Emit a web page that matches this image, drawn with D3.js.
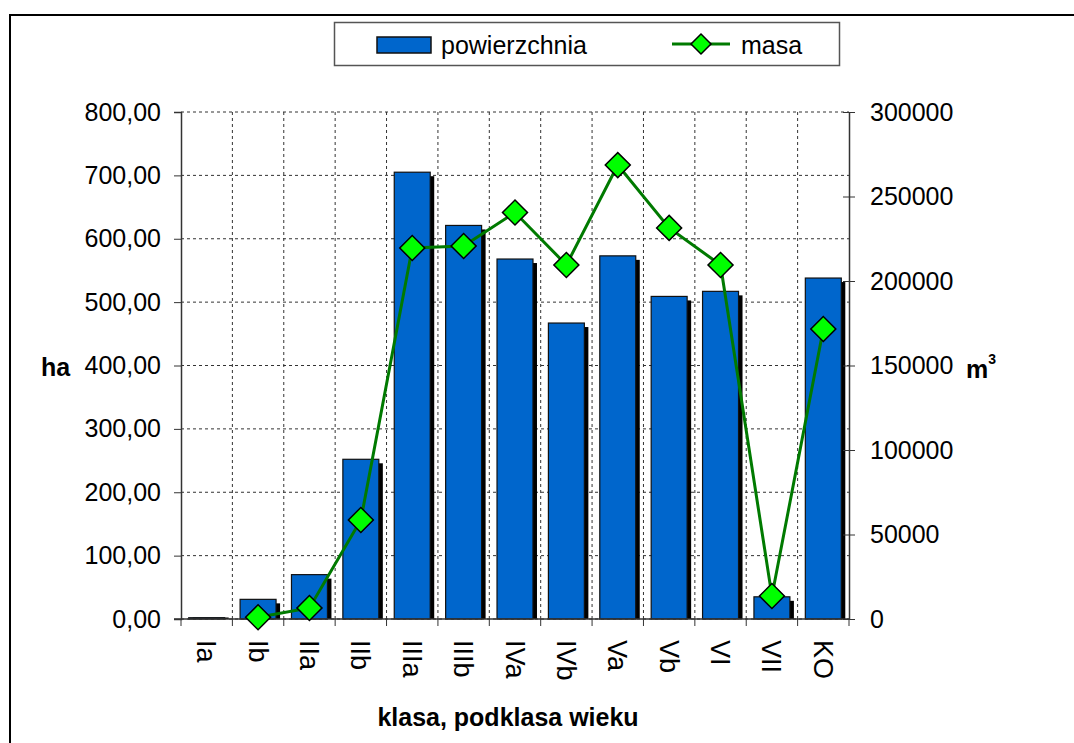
<!DOCTYPE html>
<html>
<head>
<meta charset="utf-8">
<script src="https://cdn.jsdelivr.net/npm/d3@7"></script>
<style>
  body { margin: 0; background: #fff; }
  text { font-family: "Liberation Sans", Arial, sans-serif; }
</style>
</head>
<body>
<svg width="1074" height="743"></svg>
<script>
// data
var klasy = ["Ia", "Ib", "IIa", "IIb", "IIIa", "IIIb", "IVa", "IVb", "Va", "Vb", "VI", "VII", "KO"];
var powierzchnia = [2, 31, 70, 252, 705, 621, 568, 467, 573, 509, 517, 35, 538];
var masa = [null, 1000, 6500, 58600, 219500, 220700, 240500, 209500, 268600, 231400, 209500, 13600, 171600];
var leftTicks = [0, 100, 200, 300, 400, 500, 600, 700, 800];
var rightTicks = [0, 50000, 100000, 150000, 200000, 250000, 300000];

var svg = d3.select("svg");
// plot area (note: "top" is reserved on window, so use other names)
var pLeft = 181, pRight = 849, pTop = 112, pBottom = 619;

// outer frame
svg.append("path")
  .attr("d", "M10,743 L10,15 L1074,15")
  .attr("fill", "none").attr("stroke", "#000").attr("stroke-width", 2);

var x = d3.scaleBand().domain(klasy).range([pLeft, pRight]).paddingInner(0.3).paddingOuter(0.15);
var yL = d3.scaleLinear().domain([0, 800]).range([pBottom, pTop]);
var yR = d3.scaleLinear().domain([0, 300000]).range([pBottom, pTop]);

var step = x.step();
var granice = d3.range(klasy.length + 1).map(function(i) { return pLeft + i * step; });

// grid
var grid = svg.append("g").attr("class", "grid");
grid.selectAll("line.h")
  .data(leftTicks)
  .enter()
  .append("line")
  .attr("x1", pLeft).attr("x2", pRight)
  .attr("y1", function(d) { return yL(d); })
  .attr("y2", function(d) { return yL(d); })
  .attr("stroke", "#333").attr("stroke-dasharray", "3,3");
grid.selectAll("line.v")
  .data(granice.slice(1, -1))
  .enter()
  .append("line")
  .attr("x1", function(d) { return d; }).attr("x2", function(d) { return d; })
  .attr("y1", pTop).attr("y2", pBottom)
  .attr("stroke", "#333").attr("stroke-dasharray", "3,3");

// bars with shadow
var bars = svg.append("g");
bars.selectAll("rect.cien")
  .data(powierzchnia)
  .enter()
  .append("rect")
  .attr("x", function(d, i) { return x(klasy[i]) + 4; })
  .attr("y", function(d) { return Math.min(yL(d) + 4, pBottom - 1.5); })
  .attr("width", x.bandwidth())
  .attr("height", function(d) { return Math.max(pBottom - yL(d) - 4, 1.5); })
  .attr("fill", "#000");
bars.selectAll("rect.slupek")
  .data(powierzchnia)
  .enter()
  .append("rect")
  .attr("x", function(d, i) { return x(klasy[i]); })
  .attr("y", function(d) { return yL(d); })
  .attr("width", x.bandwidth())
  .attr("height", function(d) { return pBottom - yL(d); })
  .attr("fill", "#0066cc")
  .attr("stroke", "#111").attr("stroke-width", 1.2);

// left axis
var comma = d3.formatLocale({decimal: ",", thousands: " ", grouping: [3], currency: ["", ""]});
var axL = svg.append("g")
  .attr("transform", "translate(" + pLeft + ",0)")
  .call(d3.axisLeft(yL).tickValues(leftTicks).tickSize(7).tickPadding(13).tickFormat(comma.format(".2f")));
axL.select(".domain").attr("stroke", "#333").attr("stroke-width", 1.5);
axL.selectAll(".tick line").attr("stroke", "#333");
axL.selectAll("text").attr("font-size", 25).attr("fill", "#000");

// right axis
var axR = svg.append("g")
  .attr("transform", "translate(" + pRight + ",0)")
  .call(d3.axisRight(yR).tickValues(rightTicks).tickSizeInner(6).tickSizeOuter(0).tickPadding(15).tickFormat(d3.format("d")));
axR.select(".domain").attr("stroke", "#333").attr("stroke-width", 1.5);
axR.selectAll(".tick line").attr("stroke", "#333").attr("x1", -6);
axR.selectAll("text").attr("font-size", 25).attr("fill", "#000");

// bottom axis
svg.append("line")
  .attr("x1", pLeft - 7).attr("x2", pRight)
  .attr("y1", pBottom).attr("y2", pBottom)
  .attr("stroke", "#333").attr("stroke-width", 1.5);
svg.append("g").selectAll("line")
  .data(granice)
  .enter()
  .append("line")
  .attr("x1", function(d) { return d; }).attr("x2", function(d) { return d; })
  .attr("y1", pBottom).attr("y2", pBottom + 7)
  .attr("stroke", "#333");
var axB = svg.append("g")
  .attr("transform", "translate(0," + pBottom + ")")
  .call(d3.axisBottom(x).tickSize(0));
axB.select(".domain").remove();
axB.selectAll("text")
  .attr("font-size", 27).attr("fill", "#000")
  .attr("transform", "rotate(90)")
  .attr("x", 21).attr("y", 0).attr("dy", "0.35em")
  .attr("text-anchor", "start");

// masa line
var linia = d3.line()
  .defined(function(d) { return d != null; })
  .x(function(d, i) { return x(klasy[i]) + x.bandwidth() / 2; })
  .y(function(d) { return yR(d); });
svg.append("path")
  .datum(masa)
  .attr("d", linia)
  .attr("fill", "none").attr("stroke", "#007a00").attr("stroke-width", 3);

var romb = d3.symbol().type(d3.symbolSquare).size(2 * 12.5 * 12.5);
svg.append("g").selectAll("path")
  .data(masa.map(function(d, i) { return {k: klasy[i], v: d}; }).filter(function(d) { return d.v != null; }))
  .enter()
  .append("path")
  .attr("d", romb)
  .attr("transform", function(d) {
    return "translate(" + (x(d.k) + x.bandwidth() / 2) + "," + yR(d.v) + ") rotate(45)";
  })
  .attr("fill", "#00ff00").attr("stroke", "#000").attr("stroke-width", 1.5);

// axis titles
svg.append("text").attr("x", 41).attr("y", 376)
  .attr("font-size", 25).attr("font-weight", "bold").text("ha");
var m3 = svg.append("text").attr("x", 966).attr("y", 378)
  .attr("font-size", 25).attr("font-weight", "bold");
m3.append("tspan").text("m");
m3.append("tspan").attr("font-size", 14).attr("dy", -14).text("3");
svg.append("text").attr("x", 508).attr("y", 726)
  .attr("text-anchor", "middle")
  .attr("font-size", 25).attr("font-weight", "bold").text("klasa, podklasa wieku");

// legend
var leg = svg.append("g");
leg.append("rect").attr("x", 334.5).attr("y", 22.5).attr("width", 505).attr("height", 43)
  .attr("fill", "#fff").attr("stroke", "#555").attr("stroke-width", 1.5);
leg.append("rect").attr("x", 377).attr("y", 37).attr("width", 54).attr("height", 16)
  .attr("fill", "#0066cc").attr("stroke", "#111").attr("stroke-width", 1.5);
leg.append("text").attr("x", 441).attr("y", 54).attr("font-size", 25).text("powierzchnia");
leg.append("line").attr("x1", 672).attr("x2", 730).attr("y1", 44).attr("y2", 44)
  .attr("stroke", "#007a00").attr("stroke-width", 3);
leg.append("path")
  .attr("d", d3.symbol().type(d3.symbolSquare).size(200))
  .attr("transform", "translate(701,44) rotate(45)")
  .attr("fill", "#00ff00").attr("stroke", "#000").attr("stroke-width", 1.5);
leg.append("text").attr("x", 741).attr("y", 54).attr("font-size", 25).text("masa");
</script>
</body>
</html>
